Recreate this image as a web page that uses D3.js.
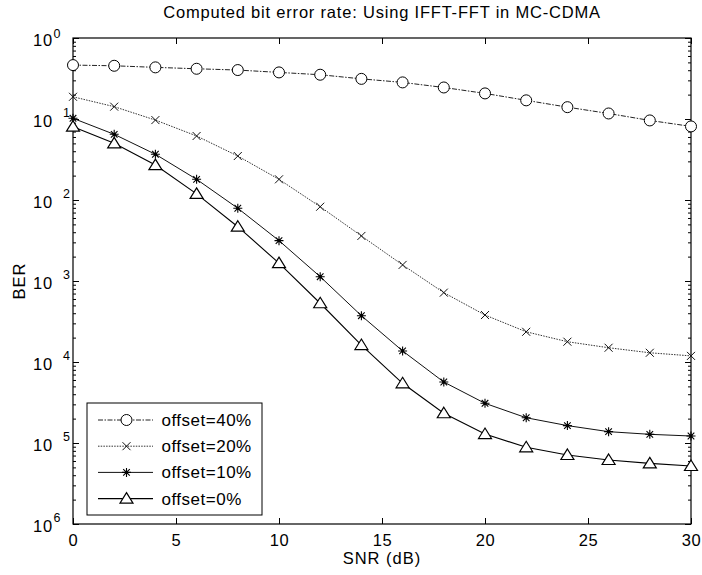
<!DOCTYPE html>
<html>
<head>
<meta charset="utf-8">
<script src="https://cdn.jsdelivr.net/npm/d3@7"></script>
<style>
  body { margin: 0; background: #fff; }
  text { font-family: "Liberation Sans", Arial, Helvetica, sans-serif; fill: #000; }
</style>
</head>
<body>
<div id="chart"></div>
<script>
/**
 * DATA
 * */
const snr = [0, 2, 4, 6, 8, 10, 12, 14, 16, 18, 20, 22, 24, 26, 28, 30];
const ber40 = [0.463, 0.454, 0.434, 0.417, 0.402, 0.376, 0.352, 0.313, 0.283, 0.245, 0.207, 0.170, 0.140, 0.117, 0.096, 0.081];
const ber20 = [0.188, 0.142, 0.097, 0.0617, 0.0349, 0.0180, 0.00826, 0.00360, 0.00158, 7.18e-4, 3.80e-4, 2.36e-4, 1.78e-4, 1.50e-4, 1.30e-4, 1.19e-4];
const ber10 = [0.102, 0.0647, 0.0367, 0.0180, 0.00791, 0.00315, 0.00113, 3.73e-4, 1.37e-4, 5.66e-5, 3.09e-5, 2.05e-5, 1.64e-5, 1.38e-5, 1.28e-5, 1.22e-5];
const ber0 = [0.0803, 0.0501, 0.0270, 0.0119, 0.00468, 0.00166, 5.31e-4, 1.62e-4, 5.46e-5, 2.33e-5, 1.29e-5, 8.85e-6, 7.11e-6, 6.17e-6, 5.61e-6, 5.20e-6];
const seriesNames = ["offset=40%", "offset=20%", "offset=10%", "offset=0%"];
const xTickValues = [0, 5, 10, 15, 20, 25, 30];
const yExponents = [0, -1, -2, -3, -4, -5, -6];

/**
 * CONSTANTS
 * */
const width = 702,
  height = 575,
  margin = { top: 38, bottom: 51, left: 73, right: 11 };
const innerW = width - margin.left - margin.right,
  innerH = height - margin.top - margin.bottom;

const svg = d3.select("#chart").append("svg")
  .attr("width", width)
  .attr("height", height);

const x = d3.scaleLinear().domain([0, 30]).range([margin.left, margin.left + innerW]);
const y = d3.scaleLog().domain([1e-6, 1]).range([margin.top + innerH, margin.top]);

// marker shapes
function drawMarker(g, kind) {
  if (kind === "circle") {
    g.append("circle").attr("r", 5.5).attr("fill", "#fff").attr("stroke", "#000").attr("stroke-width", 1);
  } else if (kind === "x") {
    g.append("path").attr("d", "M-4,-4L4,4M-4,4L4,-4").attr("stroke", "#111").attr("stroke-width", 1);
  } else if (kind === "star") {
    g.append("path").attr("d", "M-4.5,0L4.5,0M0,-4.5L0,4.5M-3.3,-3.3L3.3,3.3M-3.3,3.3L3.3,-3.3")
      .attr("stroke", "#000").attr("stroke-width", 1.1);
    g.append("circle").attr("r", 1.6).attr("fill", "#000");
  } else {
    g.append("path").attr("d", "M0,-6L6.5,4.5L-6.5,4.5Z").attr("fill", "#fff").attr("stroke", "#000").attr("stroke-width", 1.2);
  }
}

const series = [
  { name: seriesNames[0], values: ber40, marker: "circle", dash: "5,1.5,1.5,1.5", color: "#222", sw: 1 },
  { name: seriesNames[1], values: ber20, marker: "x", dash: "1.5,1.2", color: "#333", sw: 1 },
  { name: seriesNames[2], values: ber10, marker: "star", dash: null, color: "#111", sw: 1 },
  { name: seriesNames[3], values: ber0, marker: "tri", dash: null, color: "#000", sw: 1.1 },
];

// axes (ticks point inwards like matlab)
const majors = yExponents.map(e => Math.pow(10, e));
const minors = y.ticks().filter(v => Math.abs(Math.log10(v) - Math.round(Math.log10(v))) > 1e-6);

svg.append("g")
  .attr("transform", `translate(0,${margin.top + innerH})`)
  .call(d3.axisBottom(x).tickValues(xTickValues).tickSizeInner(-6).tickSizeOuter(0).tickPadding(10))
  .call(g => g.selectAll("text").style("font-size", "16.5px").style("letter-spacing", "0.6px"));
svg.append("g")
  .attr("transform", `translate(0,${margin.top})`)
  .call(d3.axisTop(x).tickValues(xTickValues).tickSizeInner(-6).tickSizeOuter(0).tickFormat(""));

const yLeft = svg.append("g")
  .attr("transform", `translate(${margin.left},0)`)
  .call(d3.axisLeft(y).tickValues(majors).tickSizeInner(-6).tickSizeOuter(0).tickFormat(""));
svg.append("g")
  .attr("transform", `translate(${margin.left},0)`)
  .call(d3.axisLeft(y).tickValues(minors).tickSizeInner(-3).tickSizeOuter(0).tickFormat(""));
svg.append("g")
  .attr("transform", `translate(${margin.left + innerW},0)`)
  .call(d3.axisRight(y).tickValues(majors).tickSizeInner(-6).tickSizeOuter(0).tickFormat(""));
svg.append("g")
  .attr("transform", `translate(${margin.left + innerW},0)`)
  .call(d3.axisRight(y).tickValues(minors).tickSizeInner(-3).tickSizeOuter(0).tickFormat(""));

// y labels: "10" + exponent (the scan lost the minus signs, kept as seen)
yLeft.selectAll(".tick").each(function(d) {
  const e = Math.round(Math.log10(d));
  const t = d3.select(this);
  t.append("text").attr("x", -20).attr("y", 7.5).attr("text-anchor", "end")
    .style("font-size", "16.5px").style("letter-spacing", "0.8px").text("10");
  const tight = (e === 0 || e === -6);
  t.append("text").attr("x", tight ? -19.5 : -10).attr("y", e === 0 ? -1 : -3)
    .attr("text-anchor", "start")
    .style("font-size", "12.5px").text(Math.abs(e));
});

svg.selectAll(".domain").remove();
svg.append("rect")
  .attr("x", margin.left).attr("y", margin.top)
  .attr("width", innerW).attr("height", innerH)
  .attr("fill", "none").attr("stroke", "#000").attr("stroke-width", 1.2);
svg.selectAll(".tick line").attr("stroke", "#000").attr("stroke-width", 1);

// lines + markers
const line = d3.line().x((d, i) => x(snr[i])).y(d => y(d));
series.forEach(s => {
  svg.append("path")
    .datum(s.values)
    .attr("d", line)
    .attr("fill", "none")
    .attr("stroke", s.color)
    .attr("stroke-width", s.sw)
    .attr("stroke-dasharray", s.dash);
  svg.append("g").selectAll("g")
    .data(s.values)
    .join("g")
    .attr("transform", (d, i) => `translate(${x(snr[i])},${y(d)})`)
    .each(function() { drawMarker(d3.select(this), s.marker); });
});

// legend
const legend = svg.append("g").attr("transform", "translate(87,403)");
legend.append("rect").attr("width", 175).attr("height", 112)
  .attr("fill", "#fff").attr("stroke", "#000").attr("stroke-width", 1);
series.forEach((s, i) => {
  const ly = 17 + i * 26.2;
  legend.append("line").attr("x1", 11).attr("x2", 66).attr("y1", ly).attr("y2", ly)
    .attr("stroke", s.color).attr("stroke-width", s.sw).attr("stroke-dasharray", s.dash);
  const m = legend.append("g").attr("transform", `translate(39.5,${ly})`);
  drawMarker(m, s.marker);
  legend.append("text").attr("x", 74.5).attr("y", ly + 6)
    .style("font-size", "17px").style("letter-spacing", "0.5px").text(s.name);
});

// titles
svg.append("text")
  .attr("x", margin.left + innerW / 2).attr("y", 18)
  .attr("text-anchor", "middle").style("font-size", "16.5px").style("letter-spacing", "0.8px")
  .text("Computed bit error rate: Using IFFT-FFT in MC-CDMA");
svg.append("text")
  .attr("x", margin.left + innerW / 2).attr("y", 564)
  .attr("text-anchor", "middle").style("font-size", "16.5px").style("letter-spacing", "1px")
  .text("SNR (dB)");
svg.append("text")
  .attr("transform", `translate(25,${margin.top + innerH / 2}) rotate(-90)`)
  .attr("text-anchor", "middle").style("font-size", "16.5px").style("letter-spacing", "1px")
  .text("BER");
</script>
</body>
</html>
